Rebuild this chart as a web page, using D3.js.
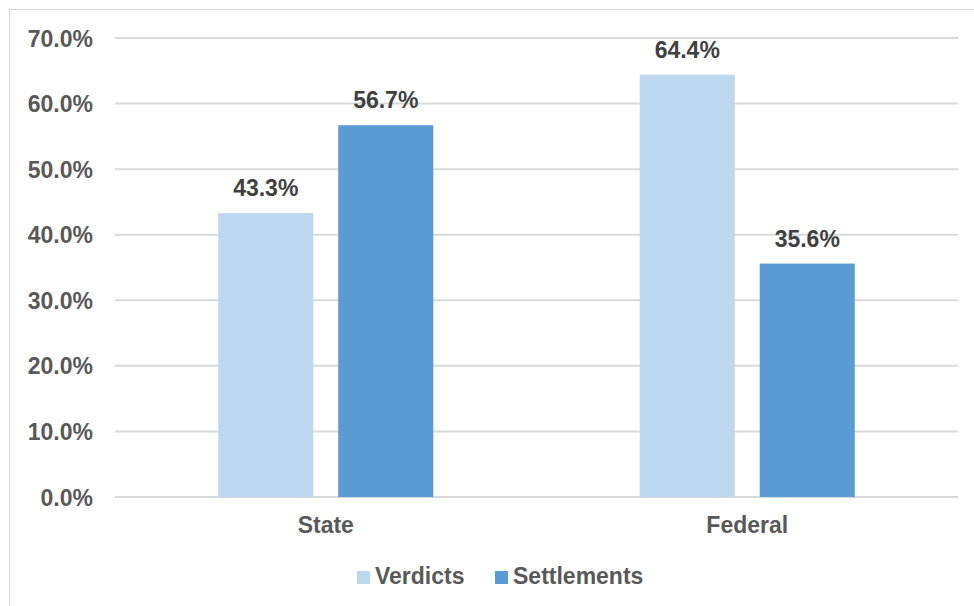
<!DOCTYPE html>
<meta charset="utf-8">
<style>
  body { margin: 0; background: #fff; }
  text { font-family: "Liberation Sans", Arial, sans-serif; font-weight: bold; }
</style>
<svg width="974" height="606"></svg>
<script src="https://d3js.org/d3.v7.min.js"></script>
<script>
var categories = ["State", "Federal"]
var seriesNames = ["Verdicts", "Settlements"]
var verdicts = [43.3, 64.4]
var settlements = [56.7, 35.6]
var yTicks = [0, 10, 20, 30, 40, 50, 60, 70]
var colors = ["#BDD7EE", "#5B9BD5"]

var svg = d3.select("svg")

// chart frame
svg.append("rect")
  .attr("x", 9.5).attr("y", 9.5)
  .attr("width", 980).attr("height", 620)
  .attr("fill", "none").attr("stroke", "#D9D9D9")

var plotLeft = 115, plotRight = 958, plotTop = 38, plotBottom = 497
var fontSize = 23

var x = d3.scaleBand().domain(categories).range([plotLeft, plotRight])
var xs = d3.scaleBand().domain(seriesNames).range([0, x.bandwidth()]).paddingInner(0.208).paddingOuter(0.86)
var y = d3.scaleLinear().domain([0, 70]).range([plotBottom, plotTop])

// grid
svg.append("g").selectAll("line")
  .data(yTicks)
  .enter().append("line")
    .attr("x1", plotLeft).attr("x2", plotRight)
    .attr("y1", function (d) { return y(d) }).attr("y2", function (d) { return y(d) })
    .attr("stroke", "#D9D9D9").attr("stroke-width", 2)

// y axis labels
var yAxis = d3.axisLeft(y).tickValues(yTicks).tickSize(0).tickPadding(0)
  .tickFormat(function (d) { return d.toFixed(1) + "%" })
var gy = svg.append("g").attr("transform", "translate(93,0)").call(yAxis)
gy.select(".domain").remove()
gy.selectAll("text")
  .attr("dy", null).attr("y", 8)
  .attr("font-family", "'Liberation Sans', Arial, sans-serif")
  .attr("font-size", fontSize).attr("font-weight", "bold").attr("fill", "#595959")

// x axis labels
var xAxis = d3.axisBottom(x).tickSize(0).tickPadding(0)
var gx = svg.append("g").attr("transform", "translate(0,533)").call(xAxis)
gx.select(".domain").remove()
gx.selectAll("text")
  .attr("dy", null).attr("y", 0)
  .attr("font-family", "'Liberation Sans', Arial, sans-serif")
  .attr("font-size", fontSize).attr("font-weight", "bold").attr("fill", "#595959")

var series = [verdicts, settlements]
series.forEach(function (vals, si) {
  var g = svg.append("g")
  g.selectAll("rect")
    .data(vals)
    .enter().append("rect")
      .attr("x", function (d, i) { return x(categories[i]) + xs(seriesNames[si]) })
      .attr("y", function (d) { return y(d) })
      .attr("width", xs.bandwidth())
      .attr("height", function (d) { return y(0) - y(d) })
      .attr("fill", colors[si])
  g.selectAll("text")
    .data(vals)
    .enter().append("text")
      .attr("x", function (d, i) { return x(categories[i]) + xs(seriesNames[si]) + xs.bandwidth() / 2 })
      .attr("y", function (d) { return y(d) - 17 })
      .attr("text-anchor", "middle")
      .attr("font-size", fontSize).attr("fill", "#404040")
      .text(function (d) { return d.toFixed(1) + "%" })
})

// legend
var legendX = [357, 495]
var legend = svg.append("g").selectAll("g")
  .data(seriesNames)
  .enter().append("g")
    .attr("transform", function (d, i) { return "translate(" + legendX[i] + ",571)" })
legend.append("rect")
  .attr("width", 13).attr("height", 13)
  .attr("fill", function (d, i) { return colors[i] })
legend.append("text")
  .attr("x", 18).attr("y", 13)
  .attr("font-size", fontSize).attr("fill", "#595959")
  .text(function (d) { return d })
</script>
